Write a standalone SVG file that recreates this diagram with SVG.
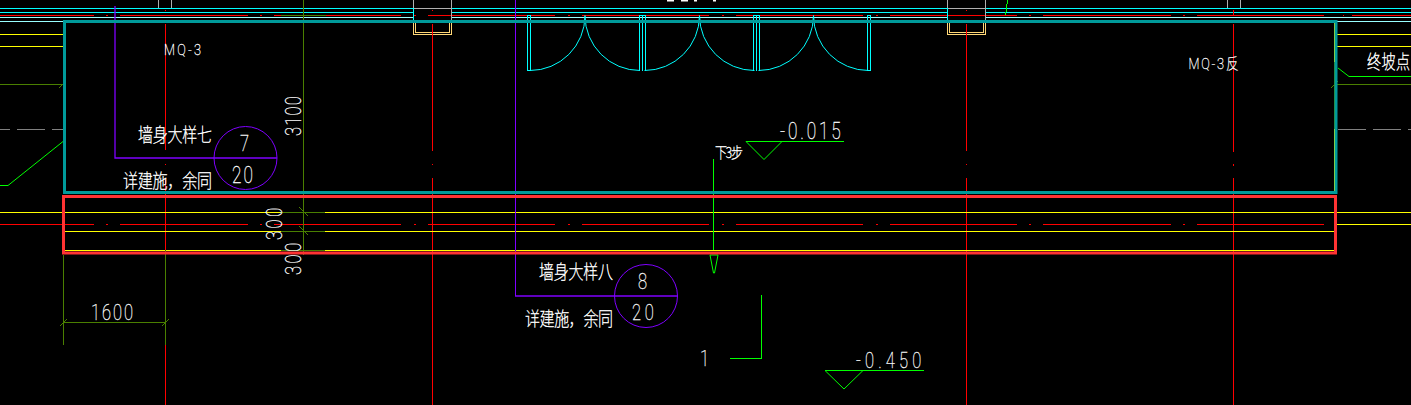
<svg xmlns="http://www.w3.org/2000/svg" width="1411" height="405" viewBox="0 0 1411 405">
<style>
text{fill:#fff;stroke:#fff;stroke-width:.3;font-family:Roboto,"Liberation Sans","Noto Sans CJK SC",sans-serif;font-weight:100}
.t{font-family:"Noto Sans CJK SC","Liberation Sans",sans-serif;font-weight:100;stroke-width:.35}
line,path,polyline,circle{fill:none;shape-rendering:crispEdges}
.cy{stroke:#0ff;stroke-width:1}
.lc{stroke:#9ff;stroke-width:1}
.ye{stroke:#ff0;stroke-width:1}
.rd{stroke:#f00;stroke-width:1}
.dg{stroke:#4a7f00;stroke-width:1}
.gn{stroke:#0f0;stroke-width:1}
.gy{stroke:#b0b0b0;stroke-width:1}
.dh{stroke:#808080;stroke-width:1}
.pu{stroke:#7f00ff;stroke-width:1}
.pl{stroke:#7f00ff;stroke-width:1.3;shape-rendering:auto}
.or{stroke:#ffd877;stroke-width:1}
.smooth{shape-rendering:auto}
</style>
<defs>
<path id="dash" d="M0 0H94M106 0H108M120 0H248M260 0H262M274 0H401M414 0H416M428 0H555M568 0H570M582 0H709M722 0H724M736 0H863M876 0H878M890 0H1017M1029 0H1031M1043 0H1171M1183 0H1185M1197 0H1324" class="rd"/>
<path id="door" d="M0 0A55 55 0 0 1 -55 55M0 0A55 55 0 0 0 55 55" class="cy smooth"/>
</defs>
<rect width="1411" height="405" fill="#000"/>
<g id="connectors">
<path class="cy" d="M0 8.5H413M452 8.5H947M986 8.5H1411M0 12.5H413M452 12.5H947M986 12.5H1411"/>
<path class="lc" d="M0 17.5H413M452 17.5H947M986 17.5H1411M0 21.5H63M1337 21.5H1411"/>
<use href="#dash" y="15.5"/>
<path class="rd" d="M1343 15.5H1344M1352 15.5H1411"/>
<path class="dg" d="M281 15.5H326"/>
<path class="gy" d="M158.5 0V8M171.5 0V8M1227.5 0V8M1240.5 0V8M413.5 0V8M451.5 0V21M413.5 8H451.5M947.5 0V8M985.5 0V21M947.5 8H985.5"/>
<path class="cy" d="M413.5 8V21M947.5 8V21"/>
<path class="or" d="M413.5 23V34.5H451.5V23M415.5 23V32.5H449.5V23M947.5 23V34.5H985.5V23M949.5 23V32.5H983.5V23"/>
<path class="rd" d="M432.5 10V11M966.5 10V11M1233.5 10V15M165.5 10V11"/>
<path class="gn" d="M1007.5 0V4M1006.5 4V12M1005.5 12V15"/>
<path class="ye" d="M0 34.5H63M0 46.5H63M1337 34.5H1411M1337 46.5H1411M1334.5 23V62M1334.5 129V192"/>
<path class="dg" d="M1334.5 62V129M0 84.5H66M1337 84.5H1411"/>
<path class="dg smooth" d="M59 88L66 81M1331 88L1338 81"/>
<path class="dh" d="M0 129.5H10M17 129.5H45M52 129.5H63M1338 129.5H1366M1373 129.5H1401M1408 129.5H1411"/>
<path class="gn smooth" d="M0 185.5H8L63 141.5"/>
<path class="gn" d="M1349 76.5H1411"/>
<path class="gn smooth" d="M1338 68L1349 76.5"/>
<path class="rd" d="M432.5 24V151M432.5 164V165M432.5 178V405M966.5 24V151M966.5 164V165M966.5 178V405M1233.5 24V152M1233.5 164V166M1233.5 178V405M165.5 24V150M165.5 164V165M165.5 178V250M165.5 345V405"/>
<path class="ye" d="M0 212.5H63M1337 212.5H1411M0 224.5H63M1337 224.5H1411M65 212.5H1334M65 231.5H1334M65 250.5H1334"/>
<use href="#dash" y="224.5"/>
<path class="dg" d="M281 212.5H325M281 231.5H325M281 250.5H325M303.5 0V255"/>
<path class="dg smooth" d="M299 207L308 216M299 226L308 235"/>
<path class="dg" d="M63.5 255V345M165.5 250V345M63 322.5H166"/>
<path class="dg smooth" d="M60 326L67 319M162 326L169 319"/>
<path class="pl" d="M115 6V158H277"/>
<path class="pu" d="M515.5 0V296"/>
<path class="pl" d="M515 296H678"/>
<path class="gn" d="M713.5 159V250M730 358.5H761.5V295M746 141.5H844M825 370.5H924"/>
<path class="gn smooth" d="M746 141.5L764 159.5L782 141.5M825 370.5L844 389L863 370.5"/>
<path class="gn smooth" d="M710 255H718L714.5 273L713.5 273Z"/>
<path class="cy" d="M527.5 15V70.5H530.5V15M639.5 15V70.5M642.5 15V70.5M645.5 15V70.5M753.5 15V70.5M756.5 15V70.5M759.5 15V70.5M867.5 15V70.5H870.5V15M527.5 15.5H530.5M639.5 15.5H645.5M753.5 15.5H759.5M867.5 15.5H870.5"/>
<use href="#door" x="585" y="15.5"/>
<use href="#door" x="699.5" y="15.5"/>
<use href="#door" x="813.5" y="15.5"/>
<rect x="667" y="0" width="7" height="1.5" fill="#fff"/><rect x="681" y="0" width="7" height="1.5" fill="#fff"/><rect x="694" y="0" width="3" height="1.5" fill="#fff"/><rect x="713" y="0" width="3" height="1.5" fill="#fff"/>
</g>
<g id="mark-7"><circle class="pu smooth" cx="245.5" cy="158" r="31.5"/>
<text transform="translate(240,151) scale(.75,1)" font-size="22">7</text>
<text transform="translate(232,183) scale(.75,1)" font-size="23" textLength="28">20</text></g>
<g id="mark-8"><circle class="pu smooth" cx="646" cy="296" r="31.5"/>
<text transform="translate(638,289) scale(.75,1)" font-size="22">8</text>
<text transform="translate(632,320) scale(.75,1)" font-size="22" textLength="29">20</text></g>
<g id="labels">
<text transform="translate(164,55) scale(.85,1)" font-size="15" textLength="43.5">MQ-3</text>
<text transform="translate(1188.5,69) scale(.85,1)" font-size="15" textLength="59">MQ-3反</text>
<text class="t" transform="translate(138,142) scale(1,1.3)" font-size="15" textLength="74">墙身大样七</text>
<text class="t" transform="translate(123,188) scale(1,1.3)" font-size="15" textLength="89">详建施，余同</text>
<text class="t" transform="translate(539,279) scale(1,1.3)" font-size="15" textLength="74">墙身大样八</text>
<text class="t" transform="translate(525,326) scale(1,1.3)" font-size="15" textLength="88">详建施，余同</text>
<text transform="translate(715,158) scale(1,1.2)" font-size="12" class="t" textLength="28">下3步</text>
<text class="t" transform="translate(1367,69) scale(1,1.4)" font-size="14" textLength="43">终坡点</text>
<text transform="translate(780,139) scale(.75,1)" font-size="23" textLength="81">-0.015</text>
<text transform="translate(856,368) scale(.75,1)" font-size="22" textLength="87">-0.450</text>
<text transform="translate(700,366) scale(.75,1)" font-size="22">1</text>
<text transform="translate(91,320) scale(.75,1)" font-size="22" textLength="56">1600</text>
<text transform="translate(301,136) rotate(-90) scale(.75,1)" font-size="22" textLength="53">3100</text>
<text transform="translate(282,240) rotate(-90) scale(.75,1)" font-size="22" textLength="43">300</text>
<text transform="translate(301,275) rotate(-90) scale(.75,1)" font-size="22" textLength="43">300</text>
</g>
<g id="frames">
<rect x="64.5" y="21.5" width="1271.5" height="171" fill="none" stroke="#009a9a" stroke-width="3"/>
<rect x="63.5" y="196.5" width="1272" height="56.5" fill="none" stroke="#ff3333" stroke-width="3"/>
</g>
</svg>
